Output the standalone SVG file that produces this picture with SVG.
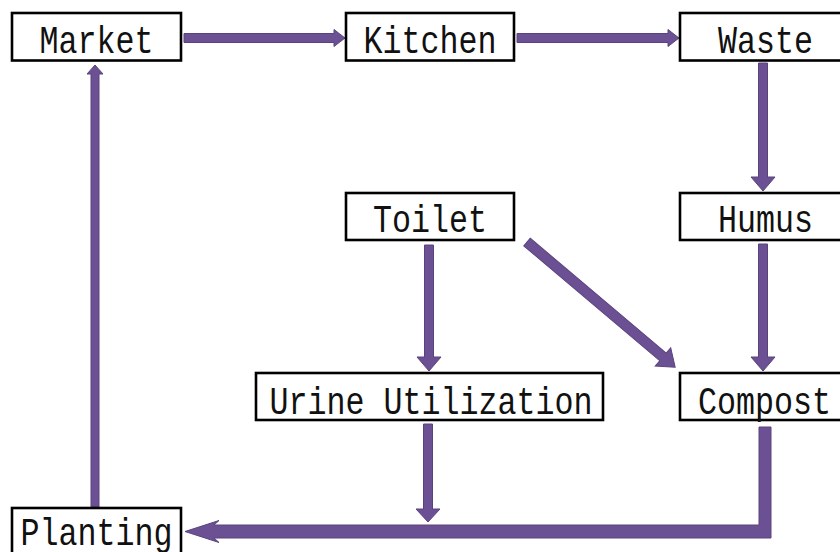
<svg xmlns="http://www.w3.org/2000/svg" width="840" height="552" viewBox="0 0 840 552">
<style>
.box{fill:#fff;stroke:#000;stroke-width:2.6}
.lbl{font-family:"Liberation Mono","DejaVu Sans Mono",monospace;font-size:31.7px;fill:#111;text-anchor:middle}
.arr{fill:#6b5193;stroke:#5a437c;stroke-width:1;stroke-linejoin:miter}
</style>
<rect width="840" height="552" fill="#fff"/>
<g id="connectors">
  <polygon class="arr" points="184,33.5 334,33.5 334,29.5 345,38 334,46.5 334,42.5 184,42.5"/>
  <polygon class="arr" points="517,33.5 668,33.5 668,29.5 679,38 668,46.5 668,42.5 517,42.5"/>
  <polygon class="arr" points="758.5,63 767.5,63 767.5,177 775,177 763,191 751,177 758.5,177"/>
  <polygon class="arr" points="758.5,244 767.5,244 767.5,357 775,357 763,371 751,357 758.5,357"/>
  <polygon class="arr" points="424.5,245 433.5,245 433.5,357 441,357 429,371 417,357 424.5,357"/>
  <g transform="translate(527,242) rotate(40.2)">
    <polygon class="arr" points="0,-5 178,-5 178,-12 194,0 178,12 178,5 0,5"/>
  </g>
  <polygon class="arr" points="423.5,424 432.5,424 432.5,509 440,509 428,522 416,509 423.5,509"/>
  <polygon class="arr" points="759,427 771,427 771,538 214,538 219,542.5 185,531.5 219,520.5 214,525 759,525"/>
  <polygon class="arr" points="91,507 99,507 99,74 103,74 95,65 87,74 91,74"/>
</g>
<g id="market">
  <rect class="box" x="12" y="13" width="169" height="47.5"/>
  <text class="lbl" transform="translate(96.5,53) scale(1,1.24)">Market</text>
</g>
<g id="kitchen">
  <rect class="box" x="346" y="13" width="168" height="47.5"/>
  <text class="lbl" transform="translate(430,53) scale(1,1.24)">Kitchen</text>
</g>
<g id="waste">
  <rect class="box" x="680" y="13" width="171" height="47.5"/>
  <text class="lbl" transform="translate(765.5,53) scale(1,1.24)">Waste</text>
</g>
<g id="toilet">
  <rect class="box" x="346" y="193" width="168" height="47"/>
  <text class="lbl" transform="translate(430,232) scale(1,1.24)">Toilet</text>
</g>
<g id="humus">
  <rect class="box" x="680" y="193" width="171" height="47"/>
  <text class="lbl" transform="translate(765.5,232) scale(1,1.24)">Humus</text>
</g>
<g id="urine-utilization">
  <rect class="box" x="256" y="373" width="347" height="47"/>
  <text class="lbl" transform="translate(431,414) scale(1,1.24)">Urine Utilization</text>
</g>
<g id="compost">
  <rect class="box" x="680" y="373" width="171" height="47"/>
  <text class="lbl" transform="translate(764.5,414) scale(1,1.24)">Compost</text>
</g>
<g id="planting">
  <rect class="box" x="12" y="508" width="169" height="50"/>
  <text class="lbl" transform="translate(96.5,545) scale(1,1.24)">Planting</text>
</g>
</svg>
